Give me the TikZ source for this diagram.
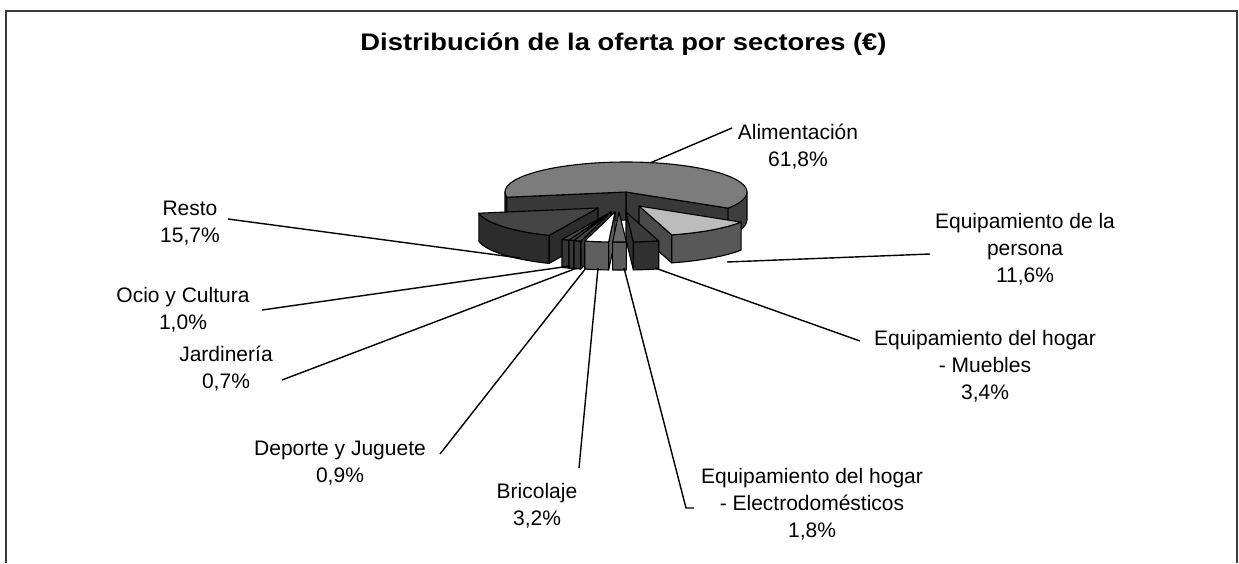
\documentclass[tikz,border=0pt]{standalone}
\usepackage{fontspec}
\setmainfont{Liberation Sans}
\definecolor{aliTop}{HTML}{7C7C7C}
\definecolor{aliWall}{HTML}{3E3E3E}
\definecolor{aliFace}{HTML}{383838}
\definecolor{perTop}{HTML}{BCBCBC}
\definecolor{perWall}{HTML}{585858}
\definecolor{perFace}{HTML}{4A4A4A}
\definecolor{mueTop}{HTML}{3A3A3A}
\definecolor{mueWall}{HTML}{303030}
\definecolor{eleTop}{HTML}{6A6A6A}
\definecolor{eleWall}{HTML}{5C5C5C}
\definecolor{briTop}{HTML}{FFFFFF}
\definecolor{briWall}{HTML}{5E5E5E}
\definecolor{smlTop}{HTML}{4A4A4A}
\definecolor{smlWall}{HTML}{363636}
\definecolor{resTop}{HTML}{444444}
\definecolor{resWall}{HTML}{2C2C2C}
\definecolor{frameCol}{HTML}{3A3A3A}
\def\PCX{626}\def\PCY{-192}\def\PRX{121}\def\PRY{30}\def\PH{28}
% #1 start, #2 end, #3 wall start, #4 wall end, #5 dx, #6 dy (down), #7 top, #8 wall, #9 face
\newcommand\PieSlice[9]{%
  \pgfmathsetmacro\sAx{\PCX+#5}%
  \pgfmathsetmacro\sAy{\PCY-#6}%
  \pgfmathsetmacro\sPax{\sAx+\PRX*cos(#1)}%
  \pgfmathsetmacro\sPay{\sAy+\PRY*sin(#1)}%
  \pgfmathsetmacro\sPbx{\sAx+\PRX*cos(#2)}%
  \pgfmathsetmacro\sPby{\sAy+\PRY*sin(#2)}%
  \pgfmathsetmacro\sWax{\sAx+\PRX*cos(#3)}%
  \pgfmathsetmacro\sWay{\sAy+\PRY*sin(#3)}%
  \pgfmathtruncatemacro\sVisA{cos(#1)>0}%
  \pgfmathtruncatemacro\sVisB{cos(#2)<0}%
  \ifnum\sVisA=1
    \filldraw[pieedge,fill=#9] (\sAx,\sAy) -- (\sPax,\sPay) -- (\sPax,\sPay-\PH) -- (\sAx,\sAy-\PH) -- cycle;
  \fi
  \ifnum\sVisB=1
    \filldraw[pieedge,fill=#9] (\sAx,\sAy) -- (\sPbx,\sPby) -- (\sPbx,\sPby-\PH) -- (\sAx,\sAy-\PH) -- cycle;
  \fi
  \filldraw[pieedge,fill=#8] (\sWax,\sWay) arc[start angle=#3,end angle=#4,x radius=\PRX,y radius=\PRY]
     -- ++(0,-\PH) arc[start angle=#4,end angle=#3,x radius=\PRX,y radius=\PRY] -- cycle;
  \filldraw[pieedge,fill=#7] (\sAx,\sAy) -- (\sPax,\sPay) arc[start angle=#1,end angle=#2,x radius=\PRX,y radius=\PRY] -- cycle;
}
\newcommand\PieWall[5]{% #1 start, #2 end, #3 dx, #4 dy, #5 colour
  \pgfmathsetmacro\sWax{\PCX+#3+\PRX*cos(#1)}%
  \pgfmathsetmacro\sWay{\PCY-#4+\PRY*sin(#1)}%
  \filldraw[pieedge,fill=#5] (\sWax,\sWay) arc[start angle=#1,end angle=#2,x radius=\PRX,y radius=\PRY]
     -- ++(0,-\PH) arc[start angle=#2,end angle=#1,x radius=\PRX,y radius=\PRY] -- cycle;
}
\begin{document}
\begin{tikzpicture}[x=1pt,y=1pt,
  pieedge/.style={draw=black,line width=1.1pt,line join=round},
  lab/.style={font=\fontsize{21}{27}\selectfont,align=center,inner sep=0pt},
  leader/.style={draw=black,line width=1.4pt}]
\useasboundingbox (0,0) rectangle (1239,-563);
\fill[white] (0,0) rectangle (1239,-563);
% frame
\draw[frameCol,line width=2.2pt] (6,-563) -- (6,-11) -- (1237,-11) -- (1237,-563);
% title
\node[inner sep=0pt] (title) at (623.5,-44) {\scalebox{1.14}[1]{\fontsize{24}{28}\selectfont\bfseries Distribución de la oferta por sectores (€)}};
% pie
\PieWall{180}{190}{0}{0}{aliWall}
\PieSlice{-32.5}{190}{-32.5}{0}{0}{0}{aliTop}{aliWall}{aliFace}
\PieSlice{-170}{-113.9}{-170}{-113.9}{-28}{16}{resTop}{resWall}{resWall}
\PieSlice{-74.3}{-32.5}{-74.3}{-32.5}{13}{14}{perTop}{perWall}{perFace}
\PieSlice{-86.5}{-74.3}{-86.5}{-74.3}{0}{20}{mueTop}{mueWall}{mueWall}
\PieSlice{-113.9}{-110.3}{-113.9}{-110.3}{-15}{20}{smlTop}{smlWall}{smlWall}
\PieSlice{-110.3}{-107.8}{-110.3}{-107.8}{-15}{20}{smlTop}{smlWall}{smlWall}
\PieSlice{-107.8}{-104.5}{-107.8}{-104.5}{-15}{20}{smlTop}{smlWall}{smlWall}
\PieSlice{-104.5}{-93}{-104.5}{-93}{-11}{20}{briTop}{briWall}{briWall}
\PieSlice{-93}{-86.5}{-93}{-86.5}{-7}{20}{eleTop}{eleWall}{eleWall}
% anchor points on the pie
\coordinate (pAli) at (650,-163);
\coordinate (pPer) at (727,-262);
\coordinate (pMue) at (655,-268);
\coordinate (pEle) at (624,-268);
\coordinate (pBri) at (598,-268);
\coordinate (pDep) at (586,-268);
\coordinate (pJar) at (577,-268);
\coordinate (pOci) at (570,-266);
\coordinate (pRes) at (520,-258);
% labels
\node[lab] (lAli) at (798,-146.5) {Alimentación\\61,8\%};
\node[lab] (lPer) at (1025,-249) {Equipamiento de la\\persona\\11,6\%};
\node[lab] (lMue) at (985,-366) {Equipamiento del hogar\\- Muebles\\3,4\%};
\node[lab] (lEle) at (812,-504) {Equipamiento del hogar\\- Electrodomésticos\\1,8\%};
\node[lab] (lBri) at (537,-506) {Bricolaje\\3,2\%};
\node[lab] (lDep) at (340,-463) {Deporte y Juguete\\0,9\%};
\node[lab] (lJar) at (226,-369) {Jardinería\\0,7\%};
\node[lab] (lOci) at (183,-310) {Ocio y Cultura\\1,0\%};
\node[lab] (lRes) at (190,-223) {Resto\\15,7\%};
% leader ends
\coordinate (eAli) at (732,-128);
\coordinate (ePer) at (930,-254);
\coordinate (eMue) at (860,-341);
\coordinate (eEle) at (686,-508);
\coordinate (eEle2) at (694,-508);
\coordinate (eBri) at (579,-468);
\coordinate (eDep) at (440,-454);
\coordinate (eJar) at (282,-380);
\coordinate (eOci) at (262,-310);
\coordinate (eRes) at (228,-219);
\draw[leader] (pAli) -- (eAli);
\draw[leader] (pPer) -- (ePer);
\draw[leader] (pMue) -- (eMue);
\draw[leader] (pEle) -- (eEle) -- (eEle2);
\draw[leader] (pBri) -- (eBri);
\draw[leader] (pDep) -- (eDep);
\draw[leader] (pJar) -- (eJar);
\draw[leader] (pOci) -- (eOci);
\draw[leader] (pRes) -- (eRes);
\end{tikzpicture}
\end{document}
